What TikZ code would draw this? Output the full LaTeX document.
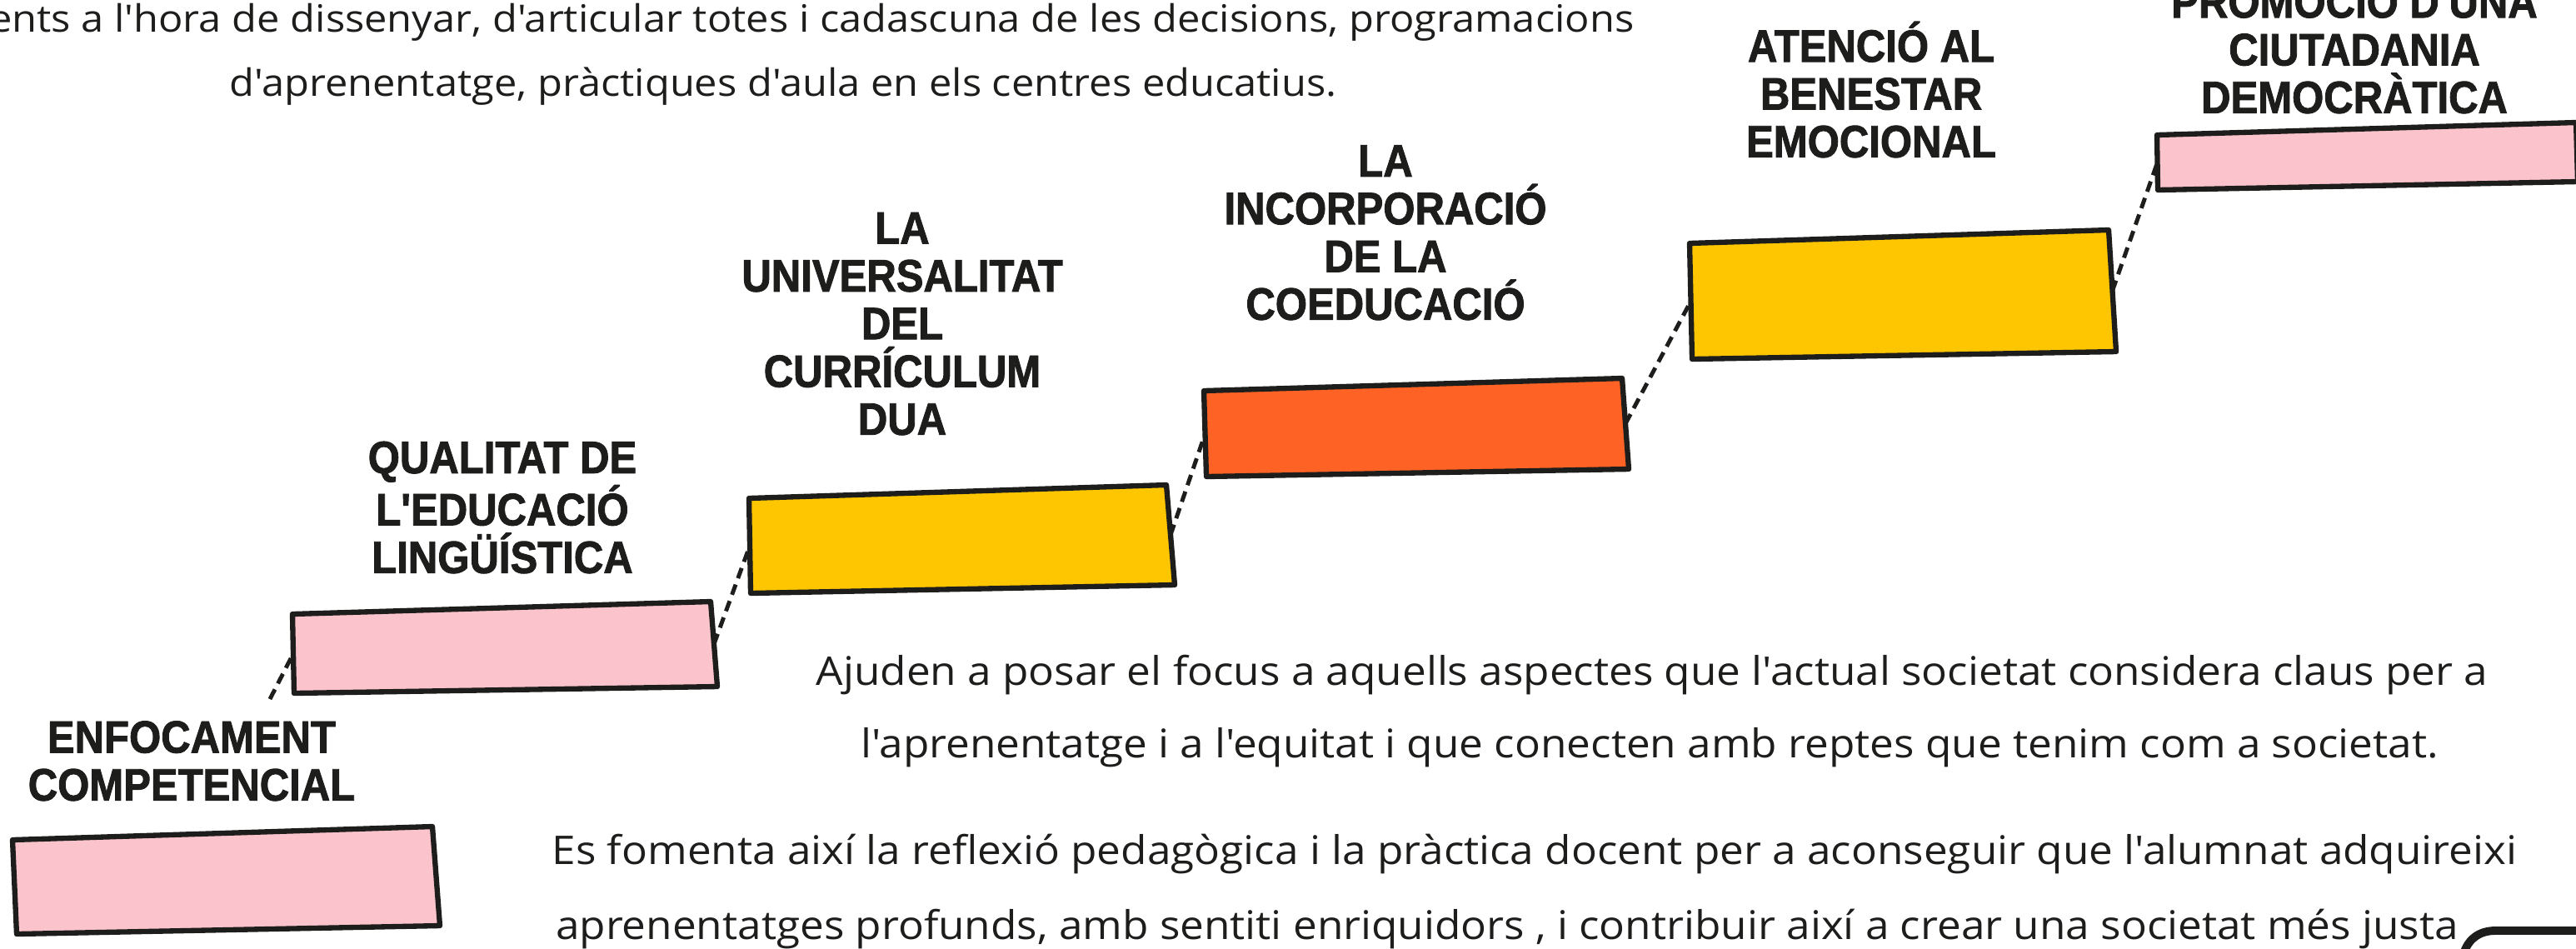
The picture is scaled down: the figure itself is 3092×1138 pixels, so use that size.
\documentclass[tikz,border=0pt]{standalone}
\usepackage{fontspec}
\setmainfont{Open Sans}[Ligatures=TeXOff,FakeStretch=1.08]
\newfontfamily\titlefont{Liberation Sans}[FakeStretch=0.9,FakeBold=1.6,Ligatures=TeXOff]
\usetikzlibrary{positioning,calc}
\definecolor{ink}{HTML}{1D1D1B}
\definecolor{rosa}{HTML}{FBC3CB}
\definecolor{groc}{HTML}{FEC501}
\definecolor{taronja}{HTML}{FE6224}

\begin{document}
\begin{tikzpicture}[x=0.01cm,y=-0.01cm,
graonbox/.style={
  draw=ink,
  line width=1.8pt,
  line join=round},
graonlink/.style={
  draw=ink,
  line width=1.4pt,
  dash pattern=on 0.13cm off 0.08cm},
graontitol/.style={
  font=\titlefont\bfseries\fontsize{15.5}{16.3}\selectfont,
  text=ink, align=center, inner sep=0pt, anchor=south},
cos/.style={
  font=\fontsize{13.5}{16}\selectfont,
  text=ink, inner sep=0pt, anchor=base},
intro/.style={
  cos,
  font=\fontsize{12.85}{16}\selectfont}
]
\useasboundingbox (0,0) rectangle (3092,1138);

% graons
\path
  (15,1008) coordinate (A1) (519,992) coordinate (B1)
  (528,1111) coordinate (C1) (20,1121) coordinate (D1)
  (351,737) coordinate (A2) (853,722) coordinate (B2)
  (861,824) coordinate (C2) (353,832) coordinate (D2)
  (899,598) coordinate (A3) (1400,582) coordinate (B3)
  (1410,702) coordinate (C3) (901,712) coordinate (D3)
  (1445,469) coordinate (A4) (1947,454) coordinate (B4)
  (1955,563) coordinate (C4) (1448,572) coordinate (D4)
  (2028,292) coordinate (A5) (2531,276) coordinate (B5)
  (2540,422) coordinate (C5) (2031,431) coordinate (D5)
  (2589,162) coordinate (A6) (3092,147) coordinate (B6)
  (3094,218) coordinate (C6) (2590,228) coordinate (D6);
\foreach \n in {1,...,6}{
  \coordinate (W\n) at ($ (A\n)!.5!(D\n) $);
  \coordinate (E\n) at ($ (B\n)!.5!(C\n) $);
}

% enllacos
\draw[graonlink] (324,839) coordinate (inici) -- (W2);
\foreach \a/\b in {2/3,3/4,4/5,5/6}
  \draw[graonlink] (E\a) -- (W\b);

\foreach \n/\c in {1/rosa,2/rosa,3/groc,4/taronja,5/groc,6/rosa}
  \draw[graonbox, fill=\c] (A\n) -- (B\n) -- (C\n) -- (D\n) -- cycle;

% titols
\node[graontitol] (t1) at (230,962) {ENFOCAMENT\\COMPETENCIAL};
\node[graontitol] (t2) at (603,689) {QUALITAT DE\\L'EDUCACIÓ\\LINGÜÍSTICA};
\node[graontitol] (t3) at (1083,523) {LA\\UNIVERSALITAT\\DEL\\CURRÍCULUM\\DUA};
\node[graontitol] (t4) at (1663,385) {LA\\INCORPORACIÓ\\DE LA\\COEDUCACIÓ};
\node[graontitol] (t5) at (2246,190) {ATENCIÓ AL\\BENESTAR\\EMOCIONAL};
\node[graontitol] (t6) at (2826,137) {PROMOCIÓ D'UNA\\CIUTADANIA\\DEMOCRÀTICA};

% textos
\node[intro, anchor=base east] (intro1) at (1962,38)
  {ents a l'hora de dissenyar, d'articular totes i cadascuna de les decisions, programacions};
\node[intro] (intro2) at (940,115)
  {d'aprenentatge, pràctiques d'aula en els centres educatius.};
\node[cos] (par1) at (1983,822)
  {Ajuden a posar el focus a aquells aspectes que l'actual societat considera claus per a};
\node[cos] (par2) at (1980,909)
  {l'aprenentatge i a l'equitat i que conecten amb reptes que tenim com a societat.};
\node[cos] (par3) at (1842,1037)
  {Es fomenta així la reflexió pedagògica i la pràctica docent per a aconseguir que l'alumnat adquireixi};
\node[cos] (par4) at (1809,1127)
  {aprenentatges profunds, amb sentiti enriquidors , i contribuir així a crear una societat més justa};

\draw[ink, line width=2.8pt] (3100,1117) -- (2995,1117)
  .. controls (2975,1117) and (2962,1128) .. (2957,1145);
\end{tikzpicture}
\end{document}
